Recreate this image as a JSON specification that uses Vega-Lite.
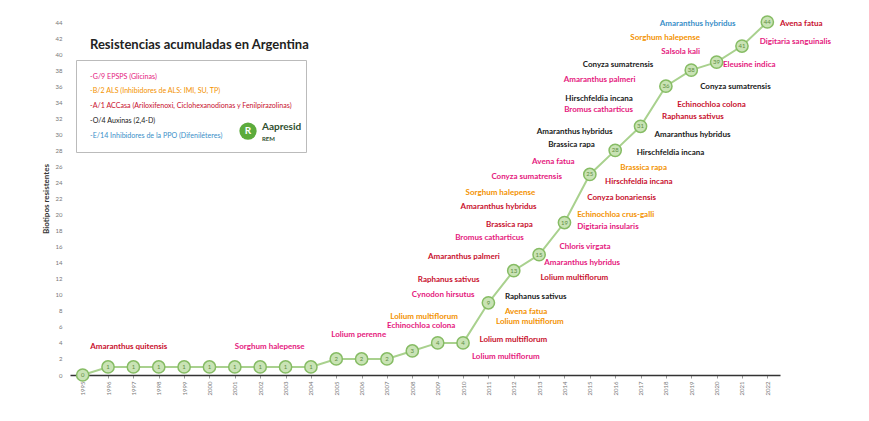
{
  "$schema": "https://vega.github.io/schema/vega-lite/v6.json",
  "width": 710,
  "height": 353,
  "autosize": {"type": "none"},
  "padding": {"left": 70, "top": 22, "right": 89, "bottom": 46},
  "background": "white",
  "config": {"font": "Lato", "view": {"stroke": null}},
  "title": {"text": "Resistencias acumuladas en Argentina", "anchor": "start", "frame": "group", "offset": -39, "dx": 20, "fontSize": 13, "fontWeight": "bold", "color": "#222", "font": "Lato"},
  "datasets": {
    "serie": [
      {"anio": 1995, "valor": 0}, {"anio": 1996, "valor": 1}, {"anio": 1997, "valor": 1}, {"anio": 1998, "valor": 1},
      {"anio": 1999, "valor": 1}, {"anio": 2000, "valor": 1}, {"anio": 2001, "valor": 1}, {"anio": 2002, "valor": 1},
      {"anio": 2003, "valor": 1}, {"anio": 2004, "valor": 1}, {"anio": 2005, "valor": 2}, {"anio": 2006, "valor": 2},
      {"anio": 2007, "valor": 2}, {"anio": 2008, "valor": 3}, {"anio": 2009, "valor": 4}, {"anio": 2010, "valor": 4},
      {"anio": 2011, "valor": 9}, {"anio": 2012, "valor": 13}, {"anio": 2013, "valor": 15}, {"anio": 2014, "valor": 19},
      {"anio": 2015, "valor": 25}, {"anio": 2016, "valor": 28}, {"anio": 2017, "valor": 31}, {"anio": 2018, "valor": 36},
      {"anio": 2019, "valor": 38}, {"anio": 2020, "valor": 39}, {"anio": 2021, "valor": 41}, {"anio": 2022, "valor": 44}
    ],
    "especies": [
      {"especie": "Amaranthus quitensis", "grupo": "A", "lado": "der", "anio": 1995.3, "valor": 3.5},
      {"especie": "Sorghum halepense", "grupo": "G", "lado": "der", "anio": 2001.0, "valor": 3.5},
      {"especie": "Lolium perenne", "grupo": "G", "lado": "der", "anio": 2004.8, "valor": 5.0},
      {"especie": "Lolium multiflorum", "grupo": "G", "lado": "der", "anio": 2010.35, "valor": 2.25},
      {"especie": "Lolium multiflorum", "grupo": "A", "lado": "der", "anio": 2010.65, "valor": 4.35},
      {"especie": "Lolium multiflorum", "grupo": "B", "lado": "der", "anio": 2011.3, "valor": 6.6},
      {"especie": "Avena fatua", "grupo": "B", "lado": "der", "anio": 2011.65, "valor": 7.85},
      {"especie": "Raphanus sativus", "grupo": "O", "lado": "der", "anio": 2011.65, "valor": 9.7},
      {"especie": "Lolium multiflorum", "grupo": "A", "lado": "der", "anio": 2013.05, "valor": 12.1},
      {"especie": "Amaranthus hybridus", "grupo": "G", "lado": "der", "anio": 2013.2, "valor": 13.95},
      {"especie": "Chloris virgata", "grupo": "G", "lado": "der", "anio": 2013.8, "valor": 15.95},
      {"especie": "Digitaria insularis", "grupo": "G", "lado": "der", "anio": 2014.5, "valor": 18.45},
      {"especie": "Echinochloa crus-galli", "grupo": "B", "lado": "der", "anio": 2014.5, "valor": 19.9},
      {"especie": "Conyza bonariensis", "grupo": "A", "lado": "der", "anio": 2014.9, "valor": 22.05},
      {"especie": "Hirschfeldia incana", "grupo": "A", "lado": "der", "anio": 2015.6, "valor": 24.05},
      {"especie": "Brassica rapa", "grupo": "B", "lado": "der", "anio": 2016.2, "valor": 25.8},
      {"especie": "Hirschfeldia incana", "grupo": "O", "lado": "der", "anio": 2016.85, "valor": 27.65},
      {"especie": "Amaranthus hybridus", "grupo": "O", "lado": "der", "anio": 2017.55, "valor": 29.9},
      {"especie": "Raphanus sativus", "grupo": "A", "lado": "der", "anio": 2017.85, "valor": 32.2},
      {"especie": "Echinochloa colona", "grupo": "A", "lado": "der", "anio": 2018.45, "valor": 33.65},
      {"especie": "Conyza sumatrensis", "grupo": "O", "lado": "der", "anio": 2019.35, "valor": 35.9},
      {"especie": "Eleusine indica", "grupo": "G", "lado": "der", "anio": 2020.25, "valor": 38.6},
      {"especie": "Digitaria sanguinalis", "grupo": "G", "lado": "der", "anio": 2021.7, "valor": 41.5},
      {"especie": "Avena fatua", "grupo": "A", "lado": "der", "anio": 2022.5, "valor": 43.75},
      {"especie": "Echinochloa colona", "grupo": "G", "lado": "izq", "anio": 2009.7, "valor": 6.1},
      {"especie": "Lolium multiflorum", "grupo": "B", "lado": "izq", "anio": 2009.8, "valor": 7.25},
      {"especie": "Cynodon hirsutus", "grupo": "G", "lado": "izq", "anio": 2010.45, "valor": 10.0},
      {"especie": "Raphanus sativus", "grupo": "A", "lado": "izq", "anio": 2010.65, "valor": 11.85},
      {"especie": "Amaranthus palmeri", "grupo": "A", "lado": "izq", "anio": 2011.45, "valor": 14.7},
      {"especie": "Bromus catharticus", "grupo": "G", "lado": "izq", "anio": 2012.4, "valor": 17.1},
      {"especie": "Brassica rapa", "grupo": "A", "lado": "izq", "anio": 2012.75, "valor": 18.7},
      {"especie": "Amaranthus hybridus", "grupo": "A", "lado": "izq", "anio": 2012.9, "valor": 20.9},
      {"especie": "Sorghum halepense", "grupo": "B", "lado": "izq", "anio": 2012.85, "valor": 22.7},
      {"especie": "Conyza sumatrensis", "grupo": "G", "lado": "izq", "anio": 2013.9, "valor": 24.7},
      {"especie": "Avena fatua", "grupo": "G", "lado": "izq", "anio": 2014.4, "valor": 26.55},
      {"especie": "Brassica rapa", "grupo": "O", "lado": "izq", "anio": 2015.2, "valor": 28.65},
      {"especie": "Amaranthus hybridus", "grupo": "O", "lado": "izq", "anio": 2015.9, "valor": 30.3},
      {"especie": "Bromus catharticus", "grupo": "G", "lado": "izq", "anio": 2016.7, "valor": 33.0},
      {"especie": "Hirschfeldia incana", "grupo": "O", "lado": "izq", "anio": 2016.7, "valor": 34.4},
      {"especie": "Amaranthus palmeri", "grupo": "G", "lado": "izq", "anio": 2016.8, "valor": 36.8},
      {"especie": "Conyza sumatrensis", "grupo": "O", "lado": "izq", "anio": 2017.5, "valor": 38.6},
      {"especie": "Salsola kali", "grupo": "G", "lado": "izq", "anio": 2019.35, "valor": 40.3},
      {"especie": "Sorghum halepense", "grupo": "B", "lado": "izq", "anio": 2019.35, "valor": 42.0},
      {"especie": "Amaranthus hybridus", "grupo": "E", "lado": "izq", "anio": 2020.75, "valor": 43.75}
    ],
    "logo": [
      {"texto": "Aapresid", "anio": 2002.07, "valor": 30.9},
      {"texto": "REM", "anio": 2002.07, "valor": 29.4}
    ],
    "icono": [
      {"texto": "R", "anio": 2001.52, "valor": 30.4}
    ]
  },
  "encoding": {
    "x": {"field": "anio", "type": "quantitative",
      "scale": {"domain": [1994.5, 2022.5], "nice": false, "zero": false},
      "axis": {"title": null, "values": [1995,1996,1997,1998,1999,2000,2001,2002,2003,2004,2005,2006,2007,2008,2009,2010,2011,2012,2013,2014,2015,2016,2017,2018,2019,2020,2021,2022],
        "format": "d", "labelAngle": -90, "labelFontSize": 6, "labelColor": "#777", "domainColor": "#333", "domainWidth": 1.5,
        "tickColor": "#999", "tickSize": 3, "grid": false, "labelPadding": 3}},
    "y": {"field": "valor", "type": "quantitative",
      "scale": {"domain": [0, 44], "nice": false},
      "axis": {"title": "Biotipos resistentes", "values": [0,2,4,6,8,10,12,14,16,18,20,22,24,26,28,30,32,34,36,38,40,42,44],
        "labelFontSize": 6, "labelColor": "#777", "domain": false, "ticks": false, "grid": false, "labelPadding": 8,
        "titleFontSize": 8, "titleColor": "#333", "titleFontWeight": "bold", "titlePadding": 5}}
  },
  "layer": [
    {"data": {"name": "serie"}, "mark": {"type": "line", "color": "#a9d18e", "strokeWidth": 2}},
    {"data": {"name": "serie"}, "mark": {"type": "point", "shape": "circle", "size": 150, "filled": true, "fill": "#c9e3b5", "stroke": "#86bc64", "strokeWidth": 1.5, "opacity": 1}},
    {"data": {"name": "serie"}, "mark": {"type": "text", "fontSize": 6, "color": "#5f8f42", "baseline": "middle", "align": "center"}, "encoding": {"text": {"field": "valor"}}},
    {"data": {"name": "especies"}, "transform": [{"filter": "datum.lado == 'izq'"}],
      "mark": {"type": "text", "align": "right", "baseline": "middle", "fontSize": 8, "fontWeight": "bold"},
      "encoding": {"text": {"field": "especie"},
        "color": {"field": "grupo", "type": "nominal",
          "scale": {"domain": ["G", "B", "A", "O", "E"], "range": ["#e5197e", "#f39200", "#c8102e", "#1a1a1a", "#3a8fc8"]},
          "legend": {"title": null, "orient": "none", "legendX": 6, "legendY": 38, "direction": "vertical",
            "symbolOpacity": 0, "symbolSize": 0, "symbolStrokeWidth": 0, "labelFontSize": 7.1, "labelOffset": -6,
            "labelExpr": "{'G': '-G/9 EPSPS (Glicinas)', 'B': '-B/2 ALS (Inhibidores de ALS: IMI, SU, TP)', 'A': '-A/1 ACCasa (Ariloxifenoxi, Ciclohexanodionas y Fenilpirazolinas)', 'O': '-O/4 Auxinas (2,4-D)', 'E': '-E/14 Inhibidores de la PPO (Difeniléteres)'}[datum.label]",
            "strokeColor": "#bbb", "padding": 13, "rowPadding": 6.8, "labelLimit": 400,
            "encode": {"labels": {"update": {"fill": {"scale": "color", "field": "value"}}}}}}}},
    {"data": {"name": "especies"}, "transform": [{"filter": "datum.lado == 'der'"}],
      "mark": {"type": "text", "align": "left", "baseline": "middle", "fontSize": 8, "fontWeight": "bold"},
      "encoding": {"text": {"field": "especie"},
        "color": {"field": "grupo", "type": "nominal",
          "scale": {"domain": ["G", "B", "A", "O", "E"], "range": ["#e5197e", "#f39200", "#c8102e", "#1a1a1a", "#3a8fc8"]},
          "legend": null}}},
    {"data": {"name": "icono"}, "mark": {"type": "point", "shape": "circle", "size": 300, "filled": true, "fill": "#5cab3c", "opacity": 1}},
    {"data": {"name": "icono"}, "mark": {"type": "text", "fontSize": 10, "fontWeight": "bold", "color": "white", "baseline": "middle", "align": "center"}, "encoding": {"text": {"field": "texto"}}},
    {"data": {"name": "logo"}, "mark": {"type": "text", "align": "left", "baseline": "middle", "fontWeight": "bold", "color": "#2f4f2f"},
      "encoding": {"text": {"field": "texto"}, "size": {"condition": {"test": "datum.texto == 'Aapresid'", "value": 10}, "value": 6}}}
  ]
}
